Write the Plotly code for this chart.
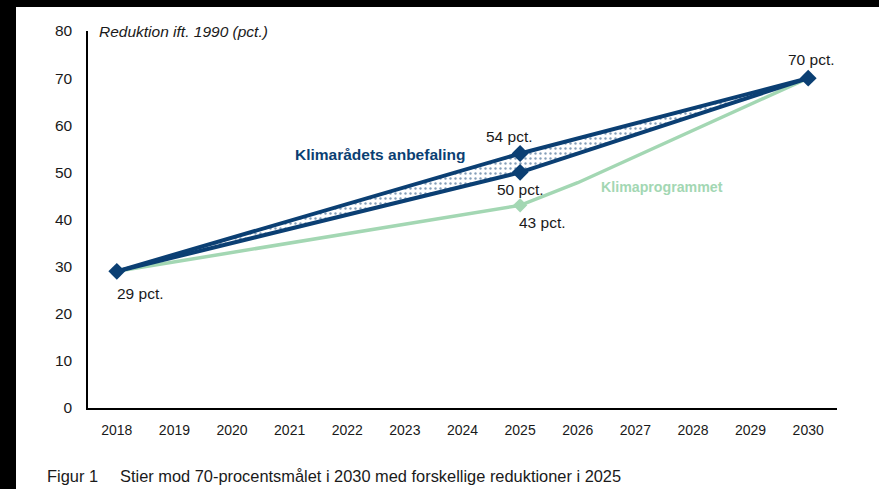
import plotly.graph_objects as go

years = [2018, 2025, 2030]
anbefaling_hoej = [29, 54, 70]
anbefaling_lav = [29, 50, 70]
program_years = [2018, 2025, 2026, 2030]
klimaprogrammet = [29, 43, 47.8, 70]
tick_years = list(range(2018, 2031))
y_ticks = [0, 10, 20, 30, 40, 50, 60, 70, 80]

NAVY = "#0b3f73"
GREEN = "#a3d7b3"
FONT = "Liberation Sans, Arial, sans-serif"
TXT = "#1a1a1a"

fig = go.Figure()

# Klimaprogrammet (green)
fig.add_trace(go.Scatter(
    x=program_years, y=klimaprogrammet, mode="lines",
    line=dict(color=GREEN, width=3.5), hoverinfo="skip", showlegend=False))
fig.add_trace(go.Scatter(
    x=[program_years[1]], y=[klimaprogrammet[1]], mode="markers",
    marker=dict(symbol="diamond", color=GREEN, size=11), showlegend=False))

# lower navy line
fig.add_trace(go.Scatter(
    x=years, y=anbefaling_lav, mode="lines",
    line=dict(color=NAVY, width=4), showlegend=False))
# upper navy line with dotted fill between
fig.add_trace(go.Scatter(
    x=years, y=anbefaling_hoej, mode="lines", fill="tonexty",
    fillcolor="white",
    fillpattern=dict(shape=".", fgcolor=NAVY, bgcolor="white", size=5, solidity=0.18),
    line=dict(color=NAVY, width=4), showlegend=False))
# markers
fig.add_trace(go.Scatter(
    x=years + [years[1]], y=anbefaling_hoej + [anbefaling_lav[1]], mode="markers",
    marker=dict(symbol="diamond", color=NAVY, size=13), showlegend=False))

ann = []
def lab(x, y, text, xs=0, ys=0, color=TXT, size=15.5, bold=False, xanchor="center"):
    t = "<b>" + text + "</b>" if bold else text
    ann.append(dict(x=x, y=y, text=t, showarrow=False, xshift=xs, yshift=ys,
                    xanchor=xanchor,
                    font=dict(family=FONT, size=size, color=color)))

lab(years[0], anbefaling_hoej[0], f"{anbefaling_hoej[0]} pct.", xs=24, ys=-22)
lab(years[1], anbefaling_hoej[1], f"{anbefaling_hoej[1]} pct.", xs=-11, ys=17)
lab(years[1], anbefaling_lav[1], f"{anbefaling_lav[1]} pct.", xs=0, ys=-17)
lab(program_years[1], klimaprogrammet[1], f"{klimaprogrammet[1]} pct.", xs=22, ys=-17)
lab(years[2], anbefaling_hoej[2], f"{anbefaling_hoej[2]} pct.", xs=3, ys=19)
lab(2022.58, 53.9, "Klimarådets anbefaling", color=NAVY, size=15.5, bold=True)
lab(2027.46, 46.9, "Klimaprogrammet", color=GREEN, size=14.2, bold=True)

ann.append(dict(xref="paper", yref="paper", x=(97 - 88) / 749, y=1.0, xanchor="left",
                yanchor="middle", showarrow=False, text="<i>Reduktion ift. 1990 (pct.)</i>",
                font=dict(family=FONT, size=15.5, color=TXT)))
ann.append(dict(xref="paper", yref="paper", x=(45 - 88) / 749, y=(408 - 476) / 377,
                xanchor="left", yanchor="middle", showarrow=False,
                text="Figur 1",
                font=dict(family=FONT, size=16.4, color=TXT)))
ann.append(dict(xref="paper", yref="paper", x=(118 - 88) / 749, y=(408 - 476) / 377,
                xanchor="left", yanchor="middle", showarrow=False,
                text="Stier mod 70-procentsmålet i 2030 med forskellige reduktioner i 2025",
                font=dict(family=FONT, size=16.4, color=TXT)))

shapes = [
    dict(type="rect", xref="paper", yref="paper", x0=-88 / 749, x1=(16 - 88) / 749,
         y0=-81 / 377, y1=408 / 377, fillcolor="black", line=dict(width=0), layer="above"),
    dict(type="rect", xref="paper", yref="paper", x0=-88 / 749, x1=791 / 749,
         y0=(408 - 7) / 377, y1=408 / 377, fillcolor="black", line=dict(width=0), layer="above"),
]

fig.update_layout(
    width=879, height=489,
    margin=dict(l=88, r=42, t=31, b=81),
    paper_bgcolor="white", plot_bgcolor="white",
    annotations=ann, shapes=shapes,
    font=dict(family=FONT, size=14, color=TXT),
    xaxis=dict(range=[2017.5, 2030.5], tickvals=tick_years, showgrid=False, zeroline=False,
               showline=True, linecolor="black", linewidth=1.5, ticks="", ticklabelstandoff=8,
               tickfont=dict(size=14), fixedrange=True),
    yaxis=dict(range=[0, 80], tickvals=y_ticks, showgrid=False, zeroline=False,
               showline=True, linecolor="black", linewidth=1.5, ticks="", ticklabelstandoff=11,
               tickfont=dict(size=15.5), fixedrange=True),
)

fig.write_html("out.html", config={"displayModeBar": False},
               post_script="document.body.style.margin='0';document.body.style.overflow='hidden';")
